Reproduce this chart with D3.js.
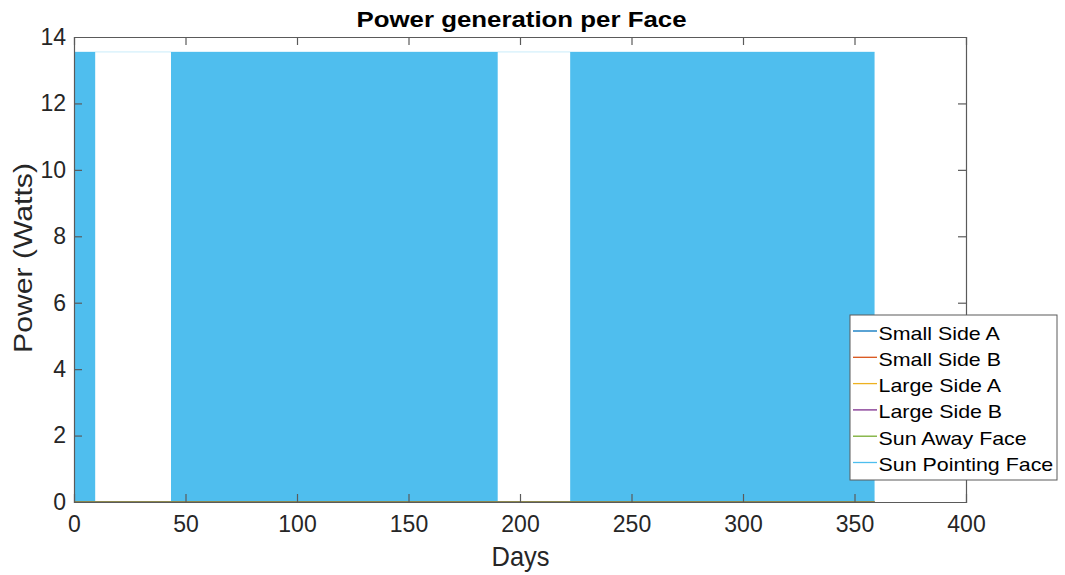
<!DOCTYPE html>
<html>
<head>
<meta charset="utf-8">
<script src="https://cdn.jsdelivr.net/npm/d3@7/dist/d3.min.js"></script>
<style>
  html, body { margin: 0; padding: 0; background: #fff; }
  svg { display: block; font-family: "Liberation Sans", Arial, Helvetica, sans-serif; }
</style>
</head>
<body>
<svg id="chart" width="1065" height="575"></svg>
<script>
// Series names and MATLAB default line colours
const seriesNames = ["Small Side A", "Small Side B", "Large Side A", "Large Side B", "Sun Away Face", "Sun Pointing Face"];
const seriesColors = ["#0072BD", "#D95319", "#EDB120", "#7E2F8E", "#77AC30", "#4DBEEE"];

// Sun Pointing Face: sunlit intervals (days) and peak power (W)
const sunlitStart = [0, 43.5, 222.5];
const sunlitEnd = [9.5, 190, 359];
const sunPointingPeak = 13.55;

// Other faces stay at zero over the whole run
const runDays = [0, 359];
const otherFacePower = [0, 0];

const xTicks = [0, 50, 100, 150, 200, 250, 300, 350, 400];
const yTicks = [0, 2, 4, 6, 8, 10, 12, 14];

const svg = d3.select("#chart");
const margin = { left: 74, right: 1065 - 966, top: 37, bottom: 575 - 502 };
const W = 1065 - margin.left - margin.right;
const H = 575 - margin.top - margin.bottom;

const x = d3.scaleLinear().domain([0, 400]).range([margin.left, margin.left + W]);
const y = d3.scaleLinear().domain([0, 14]).range([margin.top + H, margin.top]);

const axisColor = "#5a5a5a";
const textColor = "#262626";

// stretch a text node horizontally by factor k
function widen(sel, k) {
  sel.each(function () {
    const len = this.getComputedTextLength();
    d3.select(this).attr("textLength", len * k).attr("lengthAdjust", "spacingAndGlyphs");
  });
  return sel;
}

const g = svg.append("g");

// Sun Pointing Face: dense orbital oscillation rendered as a filled band
const band = d3.area().x(d => x(d[0])).y0(y(0)).y1(d => y(d[1]));
sunlitStart.forEach((s, i) => {
  g.append("path")
    .datum([[s, sunPointingPeak], [sunlitEnd[i], sunPointingPeak]])
    .attr("d", band)
    .attr("fill", "#4FBEEE");
});
// faint peak envelope across the eclipse-season gaps
g.append("line")
  .attr("x1", x(runDays[0])).attr("x2", x(runDays[1]))
  .attr("y1", y(sunPointingPeak)).attr("y2", y(sunPointingPeak))
  .attr("stroke", "#4DBEEE").attr("stroke-opacity", 0.3).attr("stroke-width", 1);

// Zero-power faces
const line = d3.line().x(d => x(d[0])).y(d => y(d[1]));
[0, 1, 2, 3, 4].forEach(k => {
  g.append("path")
    .datum(runDays.map((d, i) => [d, otherFacePower[i]]))
    .attr("d", line)
    .attr("fill", "none")
    .attr("stroke", seriesColors[k])
    .attr("stroke-width", 1.2);
});

// Axes: ticks pointing inward, mirrored on top and right
const fmt = d3.format("d");
const axB = svg.append("g").attr("transform", `translate(0,${y(0)})`)
  .call(d3.axisBottom(x).tickValues(xTicks).tickSize(-8).tickPadding(14).tickFormat(fmt));
const axT = svg.append("g").attr("transform", `translate(0,${y(14)})`)
  .call(d3.axisTop(x).tickValues(xTicks).tickSize(-8).tickFormat(""));
const axL = svg.append("g").attr("transform", `translate(${x(0)},0)`)
  .call(d3.axisLeft(y).tickValues(yTicks).tickSize(-8).tickPadding(8).tickFormat(fmt));
const axR = svg.append("g").attr("transform", `translate(${x(400)},0)`)
  .call(d3.axisRight(y).tickValues(yTicks).tickSize(-8).tickFormat(""));

[axB, axT, axL, axR].forEach(a => {
  a.select(".domain").attr("stroke", axisColor).attr("stroke-width", 1.2);
  a.selectAll(".tick line").attr("stroke", axisColor).attr("stroke-width", 1.2);
  a.selectAll(".tick text").attr("fill", textColor).attr("font-size", 23)
    .attr("font-family", "'Liberation Sans', Arial, sans-serif");
});
// end ticks sit on the frame
axB.selectAll(".tick line").filter(d => d === 0 || d === 400).remove();
axT.selectAll(".tick line").filter(d => d === 0 || d === 400).remove();
axL.selectAll(".tick line").filter(d => d === 0 || d === 14).remove();
axR.selectAll(".tick line").filter(d => d === 0 || d === 14).remove();

// Title and axis labels
svg.append("text").attr("x", 521.5).attr("y", 27)
  .attr("text-anchor", "middle").attr("font-size", 22).attr("font-weight", "bold")
  .attr("fill", "#000").attr("textLength", 330).attr("lengthAdjust", "spacingAndGlyphs")
  .text("Power generation per Face");
svg.append("text").attr("x", 520.5).attr("y", 566)
  .attr("text-anchor", "middle").attr("font-size", 28).attr("fill", textColor)
  .attr("textLength", 58).attr("lengthAdjust", "spacingAndGlyphs").text("Days");
svg.append("text")
  .attr("transform", `translate(32,258) rotate(-90)`)
  .attr("text-anchor", "middle").attr("font-size", 26).attr("fill", textColor)
  .attr("textLength", 190).attr("lengthAdjust", "spacingAndGlyphs").text("Power (Watts)");

// Legend
const lg = svg.append("g").attr("transform", "translate(850,315)");
lg.append("rect").attr("x", 0).attr("y", 0).attr("width", 207).attr("height", 165)
  .attr("fill", "#fff").attr("stroke", axisColor).attr("stroke-width", 1);
seriesNames.forEach((name, i) => {
  const cy = 16 + i * 26.3;
  lg.append("line").attr("x1", 3).attr("x2", 27).attr("y1", cy).attr("y2", cy)
    .attr("stroke", seriesColors[i]).attr("stroke-width", 1.3);
  const t = lg.append("text").attr("x", 28.5).attr("y", cy + 8.5).attr("font-size", 18.6)
    .attr("fill", "#000").text(name);
  widen(t, 1.15);
});
</script>
</body>
</html>
